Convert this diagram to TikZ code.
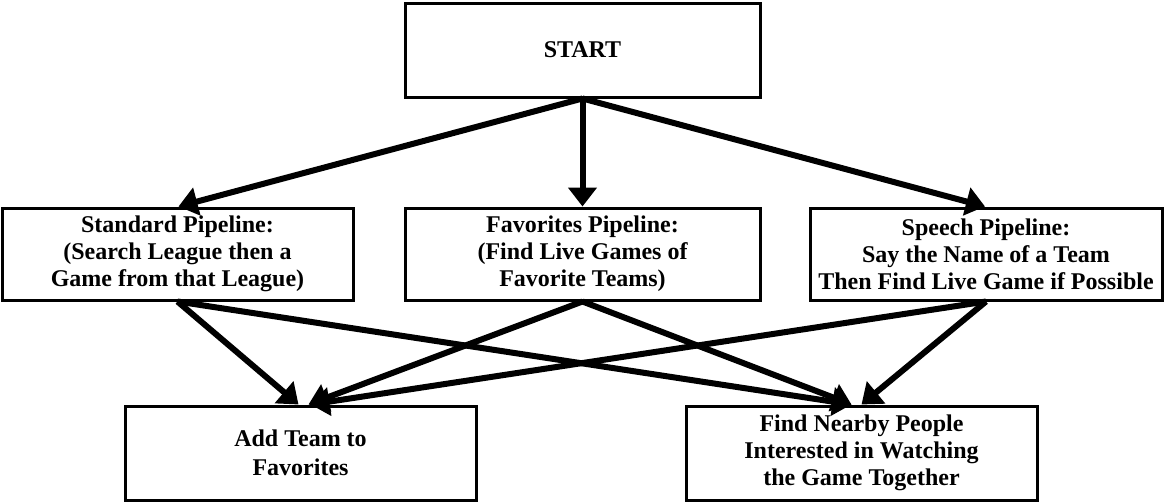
\documentclass[tikz,border=0pt]{standalone}
\usepackage{fontspec}
\setmainfont{Liberation Serif}
\usetikzlibrary{positioning, arrows.meta}

\tikzset{
    stagebox/.style={draw=black, line width=1.5pt, fill=white, align=center,
        font=\fontsize{12pt}{13.6pt}\selectfont\bfseries, inner sep=2pt},
    flowarrow/.style={line width=3pt, -{Triangle[length=9.5pt, width=14pt]}}
}

\begin{document}
\begin{tikzpicture}[x=0.5pt, y=-0.5pt]
    \useasboundingbox (0,0) rectangle (1164,503);

    % top
    \node[stagebox, minimum width=177.5pt, minimum height=47pt] (start) at (582.5,50) {START};

    % pipelines
    \node[stagebox, minimum width=175.5pt, minimum height=46pt] (standard) at (177.5,254) {Standard Pipeline:\\(Search League then a\\Game from that League)};
    \node[stagebox, minimum width=177.5pt, minimum height=46pt] (favorites) at (582.5,254) {Favorites Pipeline:\\(Find Live Games of\\Favorite Teams)};
    \node[stagebox, minimum width=176pt, minimum height=46pt] (speech) at (986,254) {Speech Pipeline:\\Say the Name of a Team\\Then Find Live Game if Possible};

    % results
    \node[stagebox, minimum width=175.5pt, minimum height=47pt, font=\fontsize{12pt}{14.5pt}\selectfont\bfseries] (addteam) at (300.5,453) {Add Team to\\Favorites};
    \node[stagebox, minimum width=175.5pt, minimum height=47pt] (nearby) at (861.5,453) {Find Nearby People\\Interested in Watching\\the Game Together};

    % arrows
    \draw[flowarrow] (start.south) -- ([xshift=0.5pt]standard.north);
    \draw[flowarrow] (start.south) -- (favorites.north);
    \draw[flowarrow] (start.south) -- ([xshift=-0.5pt]speech.north);

    \draw[flowarrow] (standard.south) -- ([xshift=-1pt]addteam.north);
    \draw[flowarrow] (favorites.south) -- ([xshift=4pt]addteam.north);
    \draw[flowarrow] (speech.south) -- ([xshift=5pt]addteam.north);

    \draw[flowarrow] (standard.south) -- ([xshift=-5pt]nearby.north);
    \draw[flowarrow] (favorites.south) -- ([xshift=-5pt]nearby.north);
    \draw[flowarrow] (speech.south) -- (nearby.north);
\end{tikzpicture}
\end{document}
